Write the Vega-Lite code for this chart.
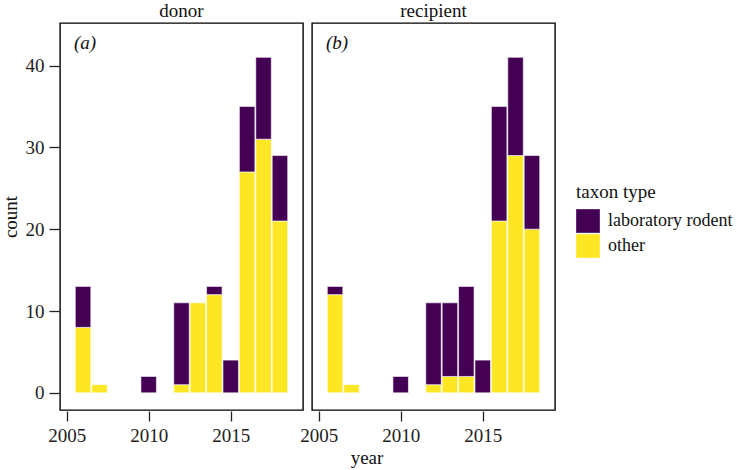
{
  "$schema": "https://vega.github.io/schema/vega-lite/v6.json",
  "padding": {"left": 1, "top": 2, "right": 5, "bottom": 5},
  "background": "white",
  "data": {"values": [
    {"role": "donor", "panel_label": "(a)", "year": 2006, "type": "other", "count": 8},
    {"role": "donor", "panel_label": "(a)", "year": 2006, "type": "laboratory rodent", "count": 5},
    {"role": "donor", "panel_label": "(a)", "year": 2007, "type": "other", "count": 1},
    {"role": "donor", "panel_label": "(a)", "year": 2010, "type": "laboratory rodent", "count": 2},
    {"role": "donor", "panel_label": "(a)", "year": 2012, "type": "other", "count": 1},
    {"role": "donor", "panel_label": "(a)", "year": 2012, "type": "laboratory rodent", "count": 10},
    {"role": "donor", "panel_label": "(a)", "year": 2013, "type": "other", "count": 11},
    {"role": "donor", "panel_label": "(a)", "year": 2014, "type": "other", "count": 12},
    {"role": "donor", "panel_label": "(a)", "year": 2014, "type": "laboratory rodent", "count": 1},
    {"role": "donor", "panel_label": "(a)", "year": 2015, "type": "laboratory rodent", "count": 4},
    {"role": "donor", "panel_label": "(a)", "year": 2016, "type": "other", "count": 27},
    {"role": "donor", "panel_label": "(a)", "year": 2016, "type": "laboratory rodent", "count": 8},
    {"role": "donor", "panel_label": "(a)", "year": 2017, "type": "other", "count": 31},
    {"role": "donor", "panel_label": "(a)", "year": 2017, "type": "laboratory rodent", "count": 10},
    {"role": "donor", "panel_label": "(a)", "year": 2018, "type": "other", "count": 21},
    {"role": "donor", "panel_label": "(a)", "year": 2018, "type": "laboratory rodent", "count": 8},
    {"role": "recipient", "panel_label": "(b)", "year": 2006, "type": "other", "count": 12},
    {"role": "recipient", "panel_label": "(b)", "year": 2006, "type": "laboratory rodent", "count": 1},
    {"role": "recipient", "panel_label": "(b)", "year": 2007, "type": "other", "count": 1},
    {"role": "recipient", "panel_label": "(b)", "year": 2010, "type": "laboratory rodent", "count": 2},
    {"role": "recipient", "panel_label": "(b)", "year": 2012, "type": "other", "count": 1},
    {"role": "recipient", "panel_label": "(b)", "year": 2012, "type": "laboratory rodent", "count": 10},
    {"role": "recipient", "panel_label": "(b)", "year": 2013, "type": "other", "count": 2},
    {"role": "recipient", "panel_label": "(b)", "year": 2013, "type": "laboratory rodent", "count": 9},
    {"role": "recipient", "panel_label": "(b)", "year": 2014, "type": "other", "count": 2},
    {"role": "recipient", "panel_label": "(b)", "year": 2014, "type": "laboratory rodent", "count": 11},
    {"role": "recipient", "panel_label": "(b)", "year": 2015, "type": "laboratory rodent", "count": 4},
    {"role": "recipient", "panel_label": "(b)", "year": 2016, "type": "other", "count": 21},
    {"role": "recipient", "panel_label": "(b)", "year": 2016, "type": "laboratory rodent", "count": 14},
    {"role": "recipient", "panel_label": "(b)", "year": 2017, "type": "other", "count": 29},
    {"role": "recipient", "panel_label": "(b)", "year": 2017, "type": "laboratory rodent", "count": 12},
    {"role": "recipient", "panel_label": "(b)", "year": 2018, "type": "other", "count": 20},
    {"role": "recipient", "panel_label": "(b)", "year": 2018, "type": "laboratory rodent", "count": 9}
  ]},
  "facet": {
    "column": {
      "field": "role", "type": "nominal", "sort": ["donor", "recipient"],
      "header": {"title": null, "labelFont": "Liberation Serif", "labelFontSize": 19, "labelColor": "#111", "labelPadding": 1}
    }
  },
  "spacing": 7,
  "spec": {
    "width": 243,
    "height": 387,
    "layer": [
      {
        "mark": {"type": "bar", "width": 15.5, "stroke": "white", "strokeWidth": 0.6},
        "encoding": {
          "x": {"field": "year", "type": "quantitative",
                "scale": {"domain": [2004.9, 2019.1], "nice": false, "zero": false},
                "axis": {"values": [2005, 2010, 2015], "format": "d", "title": null}},
          "y": {"field": "count", "type": "quantitative", "stack": "zero",
                "scale": {"domain": [-2.1, 45.2], "nice": false, "zero": false},
                "axis": {"values": [0, 10, 20, 30, 40], "title": "count"}},
          "color": {"field": "type", "type": "nominal",
                    "scale": {"domain": ["laboratory rodent", "other"], "range": ["#440154", "#FDE725"]},
                    "legend": {"title": "taxon type", "orient": "none", "legendX": 516, "legendY": 160}},
          "order": {"field": "type", "sort": "descending"}
        }
      },
      {
        "transform": [{"aggregate": [{"op": "count", "as": "n"}], "groupby": ["panel_label"]}],
        "mark": {"type": "text", "align": "left", "baseline": "middle", "font": "Liberation Serif", "fontSize": 19, "fontStyle": "italic", "color": "#111"},
        "encoding": {
          "x": {"datum": 2005.45, "type": "quantitative"},
          "y": {"datum": 42.8, "type": "quantitative"},
          "text": {"field": "panel_label"}
        }
      }
    ]
  },
  "title": {"text": "year", "orient": "bottom", "anchor": "middle", "font": "Liberation Serif", "fontSize": 19, "fontWeight": "normal", "color": "#111", "offset": 4},
  "config": {
    "view": {"stroke": "black", "strokeWidth": 1.4},
    "axis": {"grid": false, "domain": false, "tickColor": "#222", "tickSize": 10, "tickWidth": 1.3,
             "labelFont": "Liberation Serif", "labelFontSize": 19, "labelColor": "#222", "labelPadding": 5,
             "titleFont": "Liberation Serif", "titleFontSize": 19, "titleFontWeight": "normal", "titleColor": "#111", "titlePadding": 5},
    "legend": {"titleFont": "Liberation Serif", "titleFontSize": 19, "titleFontWeight": "normal", "titleColor": "#111",
               "labelFont": "Liberation Serif", "labelFontSize": 18, "labelColor": "#111",
               "symbolType": "square", "symbolSize": 560, "symbolStrokeWidth": 0, "symbolOpacity": 1,
               "rowPadding": 1, "labelOffset": 8, "titlePadding": 7}
  }
}
